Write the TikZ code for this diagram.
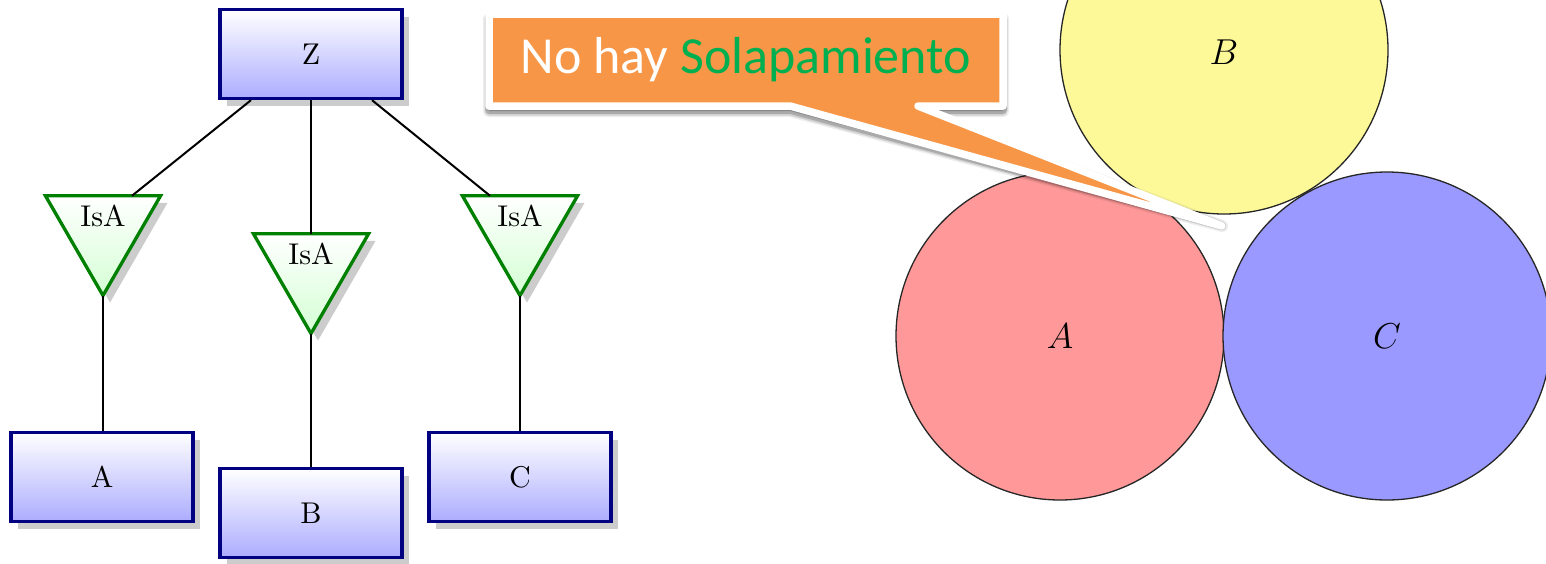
\RequirePackage{fix-cm}
\documentclass[tikz,border=0pt]{standalone}
\usepackage{fontspec}
\newfontfamily\callfont{Carlito}
\newfontfamily\lmten{lmroman10-regular}[Extension=.otf]
\usetikzlibrary{shapes.geometric,shadows,calc}
\definecolor{navy}{RGB}{0,0,128}
\definecolor{boxbot}{RGB}{172,172,255}
\definecolor{isagreen}{RGB}{0,128,0}
\definecolor{isabot}{RGB}{212,255,212}
\definecolor{calloutorange}{RGB}{247,150,70}
\definecolor{callgreen}{RGB}{0,176,80}
\definecolor{circA}{RGB}{255,153,153}
\definecolor{circB}{RGB}{253,249,153}
\definecolor{circC}{RGB}{153,153,255}
\begin{document}
\begin{tikzpicture}[x=1pt,y=-1pt,
  every node/.style={font=\lmten\fontsize{30}{36}\selectfont},
  entbox/.style={rectangle, draw=navy, line width=3.3pt, top color=white, bottom color=boxbot,
    minimum width=182pt, minimum height=89pt, inner sep=0pt,
    drop shadow={shadow xshift=7pt, shadow yshift=-7pt, fill=black!20, opacity=1}},
  isa/.style={regular polygon, regular polygon sides=3, shape border rotate=180,
    draw=isagreen, line width=3.3pt, top color=white, bottom color=isabot,
    minimum size=133pt, inner sep=0pt, outer sep=0pt,
    drop shadow={shadow xshift=7pt, shadow yshift=-7pt, fill=black!20, opacity=1}},
  conn/.style={draw=black, line width=2pt},
  ven/.style={circle, draw=black!85, line width=1.3pt, minimum size=328pt, inner sep=0pt,
    font=\fontsize{36}{42}\selectfont},
  callshape/.style={line width=7.5pt, line join=round}
]
\useasboundingbox (0,0) rectangle (1546,563);
\fill[white] (0,0) rectangle (1546,563);
\clip (0,0) rectangle (1546,563);

% ---- left: generalisation diagram ----
\node[entbox] (Z) at (311,54) {Z};
\node[isa] (t1) at (103,229) {};
\node[isa] (t2) at (311,267) {};
\node[isa] (t3) at (520,229) {};
\node (l1) at (103,216) {IsA};
\node (l2) at (311,254) {IsA};
\node (l3) at (520,216) {IsA};
\node[entbox] (A) at (102,477) {A};
\node[entbox] (B) at (311,513) {B};
\node[entbox] (C) at (520,477) {C};

\draw[conn] ([xshift=-60pt]Z.south) -- ([xshift=29pt]t1.90);
\draw[conn] (Z.south) -- (t2.90);
\draw[conn] ([xshift=61pt]Z.south) -- ([xshift=-30pt]t3.90);
\draw[conn] (t1.270) -- (t1.270 |- A.north);
\draw[conn] (t2.270) -- (t2.270 |- B.north);
\draw[conn] (t3.270) -- (t3.270 |- C.north);

% ---- right: disjoint sets ----
\node[ven, fill=circA] (cA) at (1060,336) {$A$};
\node[ven, fill=circC] (cC) at (1387,336) {$C$};
\node[ven, fill=circB] (cB) at (1224,50) {};
\node[font=\fontsize{36}{42}\selectfont] (lB) at (1224,52) {$B$};

% ---- callout ----
\coordinate (tip) at (1222,226);
\def\calloutpath{(489,14) -- (1003,14) -- (1003,106) -- (918,106) -- (tip) -- (790,106) -- (489,106) -- cycle}
\path[callshape, line width=12pt, draw=black, fill=black, opacity=0.07, shift={(0,5)}] \calloutpath;
\path[callshape, line width=9pt, draw=black, fill=black, opacity=0.12, shift={(0,5)}] \calloutpath;
\path[callshape, draw=black, fill=black, opacity=0.18, shift={(0,4)}] \calloutpath;
\path[callshape, fill=calloutorange, draw=white] \calloutpath;
\node[font=\callfont\fontsize{52}{60}\selectfont, text=white] (msg) at (746,60)
  {No hay \textcolor{callgreen}{Solapamiento}};
\end{tikzpicture}
\end{document}
